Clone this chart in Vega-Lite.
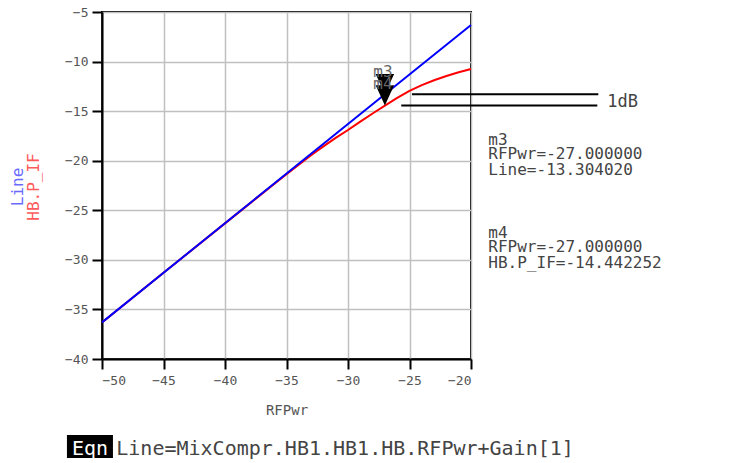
{
  "$schema": "https://vega.github.io/schema/vega-lite/v6.json",
  "width": 369,
  "height": 347,
  "autosize": {"type": "none"},
  "padding": {"left": 102, "top": 12, "right": 283, "bottom": 104},
  "background": "white",
  "config": {
    "view": {"stroke": "black", "strokeWidth": 2},
    "font": "DejaVu Sans Mono",
    "axis": {
      "domainColor": "black", "domainWidth": 2,
      "tickColor": "black", "tickWidth": 2, "tickSize": 10,
      "gridColor": "#c0c0c0", "gridWidth": 1.5,
      "labelFont": "DejaVu Sans Mono", "labelFontSize": 13, "labelColor": "#555555",
      "titleFont": "DejaVu Sans Mono", "titleFontSize": 14, "titleFontWeight": "normal", "titleColor": "#555555"
    }
  },
  "datasets": {
    "curves": [
      {"RFPwr": -50, "value": -36.30402, "series": "Line"},
      {"RFPwr": -27, "value": -13.30402, "series": "Line"},
      {"RFPwr": -20, "value": -6.30402, "series": "Line"},
      {"RFPwr": -50, "value": -36.31, "series": "HB.P_IF"},
      {"RFPwr": -45, "value": -31.31, "series": "HB.P_IF"},
      {"RFPwr": -40, "value": -26.32, "series": "HB.P_IF"},
      {"RFPwr": -38, "value": -24.33, "series": "HB.P_IF"},
      {"RFPwr": -36, "value": -22.35, "series": "HB.P_IF"},
      {"RFPwr": -35, "value": -21.37, "series": "HB.P_IF"},
      {"RFPwr": -34, "value": -20.40, "series": "HB.P_IF"},
      {"RFPwr": -33, "value": -19.45, "series": "HB.P_IF"},
      {"RFPwr": -32, "value": -18.55, "series": "HB.P_IF"},
      {"RFPwr": -31, "value": -17.70, "series": "HB.P_IF"},
      {"RFPwr": -30, "value": -16.90, "series": "HB.P_IF"},
      {"RFPwr": -29, "value": -16.06, "series": "HB.P_IF"},
      {"RFPwr": -28, "value": -15.24, "series": "HB.P_IF"},
      {"RFPwr": -27, "value": -14.442252, "series": "HB.P_IF"},
      {"RFPwr": -26, "value": -13.67, "series": "HB.P_IF"},
      {"RFPwr": -25, "value": -12.95, "series": "HB.P_IF"},
      {"RFPwr": -24, "value": -12.38, "series": "HB.P_IF"},
      {"RFPwr": -23, "value": -11.88, "series": "HB.P_IF"},
      {"RFPwr": -22, "value": -11.45, "series": "HB.P_IF"},
      {"RFPwr": -21, "value": -11.08, "series": "HB.P_IF"},
      {"RFPwr": -20, "value": -10.75, "series": "HB.P_IF"}
    ],
    "markers": [
      {"name": "m3", "RFPwr": -27, "value": -13.30402},
      {"name": "m4", "RFPwr": -27, "value": -14.442252}
    ],
    "deltaLines": [
      {"RFPwr": -24.8, "RFPwr2": -9.65, "value": -13.30402},
      {"RFPwr": -25.67, "RFPwr2": -9.73, "value": -14.442252}
    ],
    "readout": [
      {"RFPwr": -18.59, "value": -18.42, "text": "m3"},
      {"RFPwr": -18.59, "value": -19.83, "text": "RFPwr=-27.000000"},
      {"RFPwr": -18.59, "value": -21.44, "text": "Line=-13.304020"},
      {"RFPwr": -18.59, "value": -27.80, "text": "m4"},
      {"RFPwr": -18.59, "value": -29.21, "text": "RFPwr=-27.000000"},
      {"RFPwr": -18.59, "value": -30.82, "text": "HB.P_IF=-14.442252"}
    ]
  },
  "layer": [
    {
      "data": {"name": "curves"},
      "transform": [{"filter": "datum.series === 'HB.P_IF'"}],
      "mark": {"type": "line", "strokeWidth": 2, "color": "#ff0000"},
      "encoding": {
        "x": {"field": "RFPwr", "type": "quantitative",
              "scale": {"domain": [-50, -20], "nice": false, "zero": false},
              "axis": {"values": [-50, -45, -40, -35, -30, -25, -20], "title": "RFPwr", "labelPadding": 5, "titlePadding": 16}},
        "y": {"field": "value", "type": "quantitative",
              "scale": {"domain": [-40, -5], "nice": false, "zero": false},
              "axis": {"values": [-40, -35, -30, -25, -20, -15, -10, -5], "title": null, "labelPadding": 4}},
        "order": {"field": "RFPwr", "type": "quantitative"}
      }
    },
    {
      "data": {"name": "curves"},
      "transform": [{"filter": "datum.series === 'Line'"}],
      "mark": {"type": "line", "strokeWidth": 2, "color": "#0000ff"},
      "encoding": {
        "x": {"field": "RFPwr", "type": "quantitative"},
        "y": {"field": "value", "type": "quantitative"},
        "order": {"field": "RFPwr", "type": "quantitative"}
      }
    },
    {
      "data": {"name": "deltaLines"},
      "mark": {"type": "rule", "color": "black", "strokeWidth": 2},
      "encoding": {
        "x": {"field": "RFPwr", "type": "quantitative"},
        "x2": {"field": "RFPwr2"},
        "y": {"field": "value", "type": "quantitative"}
      }
    },
    {
      "data": {"name": "markers"},
      "mark": {"type": "point", "shape": "M-1,-2.2L1,-2.2L0,0Z", "filled": true, "color": "black", "size": 340, "opacity": 1},
      "encoding": {
        "x": {"field": "RFPwr", "type": "quantitative"},
        "y": {"field": "value", "type": "quantitative"}
      }
    },
    {
      "data": {"name": "markers"},
      "mark": {"type": "text", "align": "center", "baseline": "alphabetic", "dy": -17, "dx": -2, "fontSize": 16, "color": "#666666"},
      "encoding": {
        "x": {"field": "RFPwr", "type": "quantitative"},
        "y": {"field": "value", "type": "quantitative"},
        "text": {"field": "name"}
      }
    },
    {
      "data": {"values": [{"RFPwr": -8.92, "value": -14.58, "text": "1dB"}]},
      "mark": {"type": "text", "align": "left", "baseline": "alphabetic", "fontSize": 17, "color": "#444444"},
      "encoding": {
        "x": {"field": "RFPwr", "type": "quantitative"},
        "y": {"field": "value", "type": "quantitative"},
        "text": {"field": "text"}
      }
    },
    {
      "data": {"name": "readout"},
      "mark": {"type": "text", "align": "left", "baseline": "alphabetic", "fontSize": 16, "color": "#444444"},
      "encoding": {
        "x": {"field": "RFPwr", "type": "quantitative"},
        "y": {"field": "value", "type": "quantitative"},
        "text": {"field": "text"}
      }
    },
    {
      "data": {"values": [{"RFPwr": -56.8, "value": -22.65, "text": "Line"}]},
      "mark": {"type": "text", "align": "center", "baseline": "middle", "angle": 270, "fontSize": 16, "color": "#6a6aff"},
      "encoding": {
        "x": {"field": "RFPwr", "type": "quantitative"},
        "y": {"field": "value", "type": "quantitative"},
        "text": {"field": "text"}
      }
    },
    {
      "data": {"values": [{"RFPwr": -55.5, "value": -22.65, "text": "HB.P_IF"}]},
      "mark": {"type": "text", "align": "center", "baseline": "middle", "angle": 270, "fontSize": 16, "color": "#ff5a5a"},
      "encoding": {
        "x": {"field": "RFPwr", "type": "quantitative"},
        "y": {"field": "value", "type": "quantitative"},
        "text": {"field": "text"}
      }
    },
    {
      "data": {"values": [{"RFPwr": -52.85, "RFPwr2": -49.11, "value": -47.67, "value2": -49.99}]},
      "mark": {"type": "rect", "color": "black"},
      "encoding": {
        "x": {"field": "RFPwr", "type": "quantitative"},
        "x2": {"field": "RFPwr2"},
        "y": {"field": "value", "type": "quantitative"},
        "y2": {"field": "value2"}
      }
    },
    {
      "data": {"values": [{"RFPwr": -50.98, "value": -49.65, "text": "Eqn"}]},
      "mark": {"type": "text", "align": "center", "baseline": "alphabetic", "fontSize": 20, "color": "white"},
      "encoding": {
        "x": {"field": "RFPwr", "type": "quantitative"},
        "y": {"field": "value", "type": "quantitative"},
        "text": {"field": "text"}
      }
    },
    {
      "data": {"values": [{"RFPwr": -48.84, "value": -49.65, "text": "Line=MixCompr.HB1.HB1.HB.RFPwr+Gain[1]"}]},
      "mark": {"type": "text", "align": "left", "baseline": "alphabetic", "fontSize": 20, "color": "#444444"},
      "encoding": {
        "x": {"field": "RFPwr", "type": "quantitative"},
        "y": {"field": "value", "type": "quantitative"},
        "text": {"field": "text"}
      }
    }
  ]
}
